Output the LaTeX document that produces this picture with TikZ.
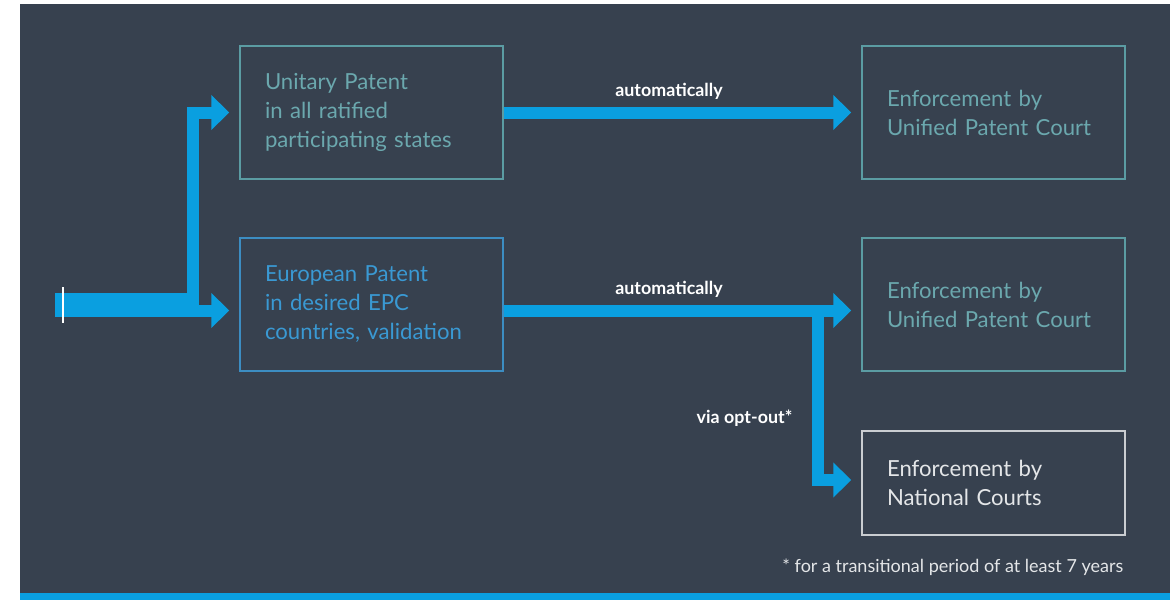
\documentclass[tikz,border=0pt]{standalone}
\usepackage{fontspec}
\setmainfont{Lato}
\usepackage{xcolor}
\usetikzlibrary{positioning,arrows.meta}

\definecolor{bgdark}{HTML}{37414F}
\definecolor{flowblue}{HTML}{0A9FE0}
\definecolor{tealtxt}{HTML}{6BA8AE}
\definecolor{tealline}{HTML}{5B9CA3}
\definecolor{eptxt}{HTML}{3A99D3}
\definecolor{epline}{HTML}{3C8DC2}
\definecolor{lighttxt}{HTML}{E4E6E8}

\tikzset{
  patbox/.style={draw=tealline, text=tealtxt, line width=1.1pt, align=left,
    text width=159.75pt, inner xsep=18.75pt, minimum height=99.75pt,
    font=\fontsize{16.6pt}{21.75pt}\selectfont},
  flow/.style={draw=flowblue, line width=9pt, line join=miter,
    -{Triangle[length=13.5pt,width=25.5pt]}, shorten >=7.5pt},
  flowlabel/.style={text=white, font=\fontsize{13.4pt}{15pt}\selectfont\bfseries}
}

\begin{document}
\begin{tikzpicture}[x=0.75pt,y=-0.75pt]
\useasboundingbox (0,0) rectangle (1176,600);
\fill[bgdark] (20,4) rectangle (1170,600);
\fill[flowblue] (20,593) rectangle (1170,600);

% boxes
\node[patbox] (up) at (371.5,112.5) {Unitary Patent\\in all ratified\\participating states};
\node[patbox, draw=epline, text=eptxt] (ep) at (371.5,304.5) {European Patent\\in desired EPC\\countries, validation};
\node[patbox] (upca) at (993.5,112.5) {Enforcement by\\Unified Patent Court};
\node[patbox] (upcb) at (993.5,304.5) {Enforcement by\\Unified Patent Court};
\node[patbox, draw=lighttxt!85!bgdark, text=lighttxt, minimum height=78pt] (nc) at (993.5,483) {Enforcement by\\National Courts};

% input flow, split in two
\coordinate (ina) at (55,299);
\coordinate (inb) at (55,310.5);
\coordinate (turn) at (193,299);
\draw[flow] (ina) -- (turn) |- (up.west);
\draw[flow] (inb) -- (ep.west |- inb);
\draw[white, line width=1.5pt] (63,287) -- (63,323);

% automatic routes
\draw[flow] (up.east) -- (upca.west);
\draw[flow] (ep.east |- inb) -- (upcb.west |- inb);
\coordinate (optout) at (818,310.5);
\draw[flow] (optout) |- ([yshift=2.25pt]nc.west);

% labels
\node[flowlabel] (lba) at (669,91) {automatically};
\node[flowlabel] (lbb) at (669,289) {automatically};
\node[flowlabel, anchor=east] (lbc) at (797,418) {via opt-out*};
\node[text=lighttxt, anchor=east, font=\fontsize{13.5pt}{15pt}\selectfont] (note) at (1128,567) {* for a transitional period of at least 7 years};
\end{tikzpicture}
\end{document}
